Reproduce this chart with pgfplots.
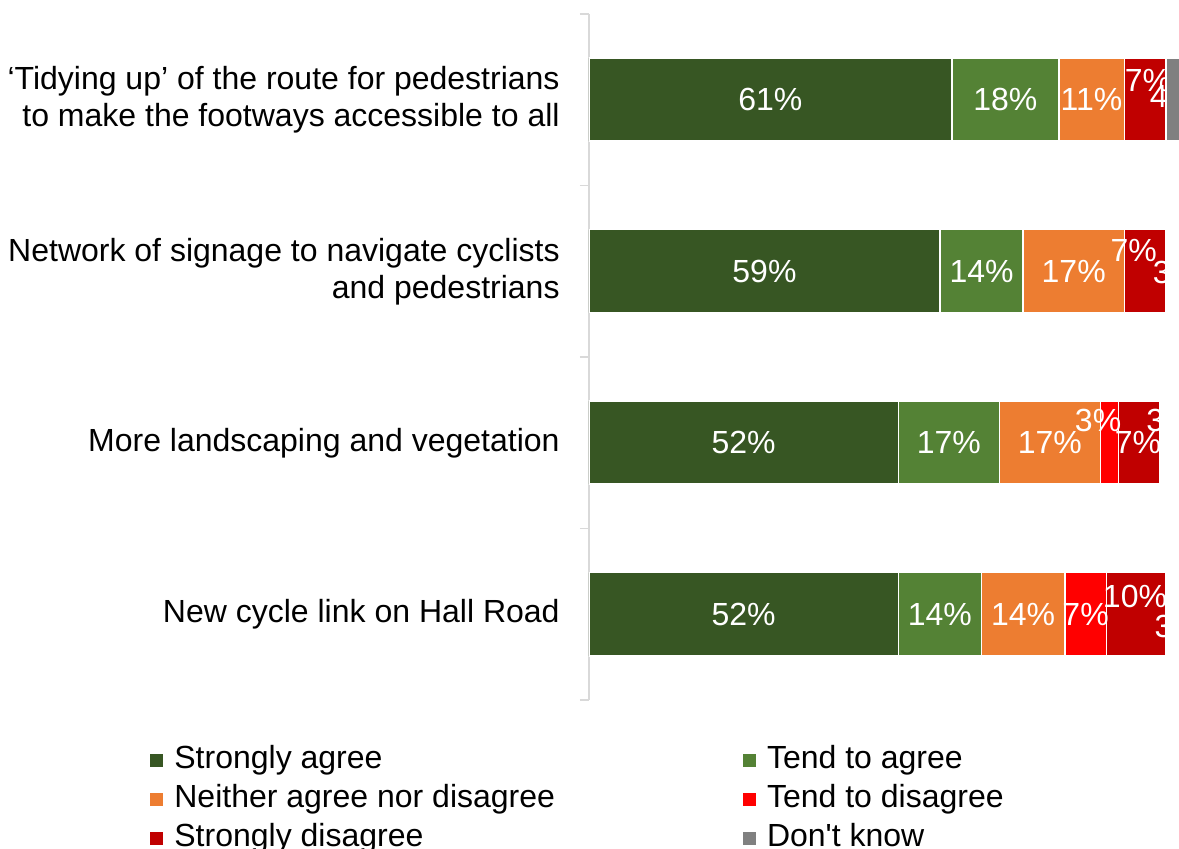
\documentclass[border=0pt]{standalone}
\usepackage{pgfplots}
\pgfplotsset{compat=1.18}
\usepackage{pgfplotstable}
\usepackage{fontspec}
\setmainfont{Liberation Sans}
\usetikzlibrary{calc}

\definecolor{sagree}{HTML}{375623}
\definecolor{tagree}{HTML}{548235}
\definecolor{neither}{HTML}{ED7D31}
\definecolor{tdis}{HTML}{FF0000}
\definecolor{sdis}{HTML}{C00000}
\definecolor{dknow}{HTML}{808080}
\definecolor{axgrey}{HTML}{D9D9D9}

\pgfplotstableread{
row SA TA N TD SD
1 61 18 11 0 7
2 59 14 17 0 7
3 52 17 17 3 7
4 52 14 14 7 10
}\bars

% don't know sits on the end; only the first row shows grey
\pgfplotstableread{
row base DKg DKw
1 97 4 0
2 97 0 3
3 96 0 3
4 97 0 3
}\dk

% label positions, some lifted off-centre as in the original
\pgfplotstableread{
x y lab
30.5 1 61
70 1 18
84.5 1 11
94.0 0.89 7
98.2 0.98 4
29.5 2 59
66 2 14
81.5 2 17
91.6 1.88 7
98.7 2.01 3
26 3 52
60.5 3 17
77.5 3 17
85.6 2.87 3
92.3 3 7
97.6 2.87 3
26 4 52
59 4 14
73 4 14
83.5 4 7
91.8 3.895 10
99.0 4.07 3
}\labels

\pgfplotsset{
  frame/.style={
    scale only axis, width=295pt, height=343pt,
    xmin=0, xmax=99.2, ymin=0.5, ymax=4.5, y dir=reverse,
  },
  seg/.style={fill=#1, draw=white, line width=0.75pt},
}

\begin{document}
\begin{tikzpicture}[font=\fontsize{16}{18.5}\selectfont]
\begin{axis}[frame,
  xbar stacked, bar width=41.5pt,
  axis x line=none, axis y line*=left,
  axis line style={axgrey, line width=0.75pt},
  ytick={1,2,3,4},
  yticklabels={{‘Tidying up’ of the route for pedestrians\\to make the footways accessible to all},
    {Network of signage to navigate cyclists\\and pedestrians},
    {More landscaping and vegetation},
    {New cycle link on Hall Road}},
  yticklabel style={align=right, inner sep=0pt, xshift=-14.5pt},
  major tick length=0pt,
  extra y ticks={0.5,1.5,2.5,3.5,4.5},
  extra y tick labels={},
  extra y tick style={major tick length=4.5pt, tick align=outside, tick style={axgrey, line width=0.75pt}},
  legend columns=2,
  legend cell align=left,
  legend style={draw=none, fill=none, inner sep=0pt,
    at={(axis description cs:0,0)}, anchor=north west,
    xshift=-219.5pt, yshift=-21.75pt,
    nodes={inner sep=1pt, text height=11.5pt, text depth=3.5pt},
    /tikz/every odd column/.append style={column sep=4.5pt},
    /tikz/every even column/.append style={column sep=93pt},
    row sep=2.5pt},
  legend image code/.code={\path[#1, draw=none] (0pt,-3.25pt) rectangle (6.5pt,3.25pt);},
]
\addplot[seg=sagree] table[x=SA, y=row]{\bars};
\addlegendentry{Strongly agree}
\addplot[seg=tagree] table[x=TA, y=row]{\bars};
\addlegendentry{Tend to agree}
\addplot[seg=neither] table[x=N, y=row]{\bars};
\addlegendentry{Neither agree nor disagree}
\addplot[seg=tdis] table[x=TD, y=row]{\bars};
\addlegendentry{Tend to disagree}
\addplot[seg=sdis] table[x=SD, y=row]{\bars};
\addlegendentry{Strongly disagree}
\addlegendimage{seg=dknow}
\addlegendentry{Don\textquotesingle t know}
\coordinate (BL) at (axis description cs:0,0);
\coordinate (TR) at (axis description cs:1,1);
\end{axis}

\begin{axis}[frame, hide axis]
\addplot[draw=none, mark=none, nodes near coords={\pgfplotspointmeta\%},
  nodes near coords align={center}, point meta=explicit symbolic,
  every node near coord/.append style={white, inner sep=0pt}]
  table[x=x, y=y, meta=lab]{\labels};
\end{axis}

\begin{axis}[frame, hide axis, xbar stacked, bar width=41.5pt]
\addplot[fill=none, draw=none] table[x=base, y=row]{\dk};
\addplot[seg=dknow] table[x=DKg, y=row]{\dk};
\addplot[fill=white, draw=none] table[x=DKw, y=row]{\dk};
\end{axis}

\pgfresetboundingbox
\path ($(BL)+(-294.5pt,-74.5pt)$) rectangle ($(TR)+(0pt,7pt)$);
\end{tikzpicture}
\end{document}
